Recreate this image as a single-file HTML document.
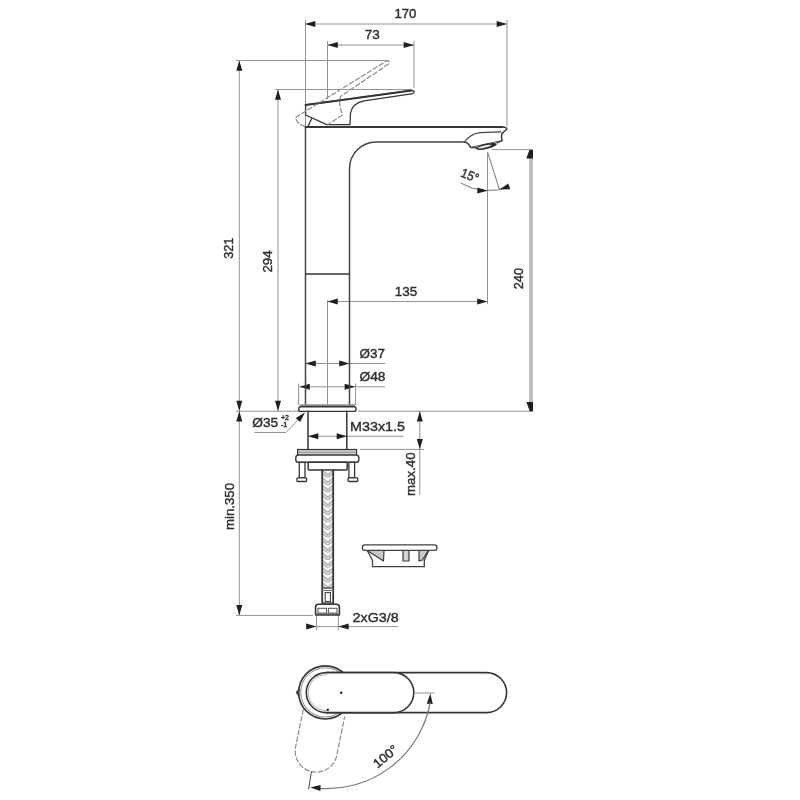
<!DOCTYPE html>
<html><head><meta charset="utf-8"><style>
html,body{margin:0;padding:0;background:#fff;}
svg{display:block;will-change:transform;}
text{font-family:"Liberation Sans",sans-serif;stroke:#2e2e2e;stroke-width:0.4px;}
</style></head><body>
<svg width="800" height="800" viewBox="0 0 800 800">
<rect width="800" height="800" fill="#fff"/>
<line x1="305" y1="24" x2="507" y2="24" stroke="#939393" stroke-width="1.0" />
<polygon points="305.00,24.00 315.30,21.00 315.30,27.00" fill="#1e1e1e"/>
<polygon points="507.00,24.00 496.70,27.00 496.70,21.00" fill="#1e1e1e"/>
<line x1="305.5" y1="20" x2="305.5" y2="127" stroke="#939393" stroke-width="1.0" />
<line x1="507" y1="20" x2="507" y2="126" stroke="#939393" stroke-width="1.0" />
<text x="405.4" y="18.2" font-size="13.7" text-anchor="middle" fill="#2e2e2e" textLength="22" lengthAdjust="spacingAndGlyphs">170</text>
<line x1="327.5" y1="45" x2="414" y2="45" stroke="#939393" stroke-width="1.0" />
<polygon points="327.50,45.00 337.80,42.00 337.80,48.00" fill="#1e1e1e"/>
<polygon points="414.00,45.00 403.70,48.00 403.70,42.00" fill="#1e1e1e"/>
<line x1="327.5" y1="41" x2="327.5" y2="99" stroke="#939393" stroke-width="1.0" />
<line x1="414" y1="41" x2="414" y2="88" stroke="#939393" stroke-width="1.0" />
<text x="372.2" y="39.3" font-size="13.7" text-anchor="middle" fill="#2e2e2e" textLength="15" lengthAdjust="spacingAndGlyphs">73</text>
<line x1="239.3" y1="60" x2="239.3" y2="411" stroke="#939393" stroke-width="1.0" />
<polygon points="239.30,60.50 242.30,70.80 236.30,70.80" fill="#1e1e1e"/>
<polygon points="239.30,411.00 236.30,400.70 242.30,400.70" fill="#1e1e1e"/>
<line x1="236" y1="60.5" x2="388" y2="60.5" stroke="#939393" stroke-width="1.0" />
<text x="233.4" y="248.3" font-size="13.7" text-anchor="middle" fill="#2e2e2e" transform="rotate(-90 233.4 248.3)" textLength="21" lengthAdjust="spacingAndGlyphs">321</text>
<line x1="278" y1="89.5" x2="278" y2="411" stroke="#939393" stroke-width="1.0" />
<polygon points="278.00,89.50 281.00,99.80 275.00,99.80" fill="#1e1e1e"/>
<polygon points="278.00,411.00 275.00,400.70 281.00,400.70" fill="#1e1e1e"/>
<line x1="275" y1="89.5" x2="411" y2="89.5" stroke="#939393" stroke-width="1.0" />
<text x="272.4" y="261.5" font-size="13.7" text-anchor="middle" fill="#2e2e2e" transform="rotate(-90 272.4 261.5)" textLength="22.2" lengthAdjust="spacingAndGlyphs">294</text>
<line x1="236" y1="411.2" x2="299" y2="411.2" stroke="#939393" stroke-width="1.0" />
<line x1="358" y1="411.2" x2="533" y2="411.2" stroke="#939393" stroke-width="1.0" />
<line x1="239.3" y1="411" x2="239.3" y2="615.4" stroke="#939393" stroke-width="1.0" />
<polygon points="239.30,411.20 242.30,421.50 236.30,421.50" fill="#1e1e1e"/>
<polygon points="239.30,615.40 236.30,605.10 242.30,605.10" fill="#1e1e1e"/>
<line x1="236" y1="615.4" x2="313" y2="615.4" stroke="#939393" stroke-width="1.0" />
<text x="234.4" y="506.5" font-size="13.7" text-anchor="middle" fill="#2e2e2e" transform="rotate(-90 234.4 506.5)" textLength="47" lengthAdjust="spacingAndGlyphs">min.350</text>
<line x1="531" y1="150" x2="531" y2="411" stroke="#bcbcbc" stroke-width="3.8" />
<polygon points="529.6,149.6 533,149.6 533,158.6 526.3,158.6" fill="#1e1e1e"/>
<polygon points="526.3,402 533,402 533,411.3 529.8,411.3" fill="#1e1e1e"/>
<line x1="492" y1="149.6" x2="533" y2="149.6" stroke="#939393" stroke-width="1.0" />
<text x="523.2" y="278.6" font-size="13.7" text-anchor="middle" fill="#2e2e2e" transform="rotate(-90 523.2 278.6)" textLength="21.3" lengthAdjust="spacingAndGlyphs">240</text>
<line x1="487.5" y1="152.5" x2="487.5" y2="304.2" stroke="#939393" stroke-width="1.0" />
<line x1="327.5" y1="301.5" x2="487.5" y2="301.5" stroke="#939393" stroke-width="1.0" />
<polygon points="327.50,301.50 337.80,298.50 337.80,304.50" fill="#1e1e1e"/>
<polygon points="487.50,301.50 477.20,304.50 477.20,298.50" fill="#1e1e1e"/>
<text x="406" y="296.2" font-size="13.7" text-anchor="middle" fill="#2e2e2e" textLength="22.5" lengthAdjust="spacingAndGlyphs">135</text>
<line x1="327.5" y1="300" x2="327.5" y2="406" stroke="#939393" stroke-width="1.0" />
<line x1="305" y1="363.5" x2="385" y2="363.5" stroke="#939393" stroke-width="1.0" />
<polygon points="305.50,363.50 315.80,360.50 315.80,366.50" fill="#1e1e1e"/>
<polygon points="349.50,363.50 339.20,366.50 339.20,360.50" fill="#1e1e1e"/>
<text x="372.2" y="358" font-size="13.7" text-anchor="middle" fill="#2e2e2e" textLength="25.5" lengthAdjust="spacingAndGlyphs">Ø37</text>
<line x1="299.5" y1="386.8" x2="385" y2="386.8" stroke="#939393" stroke-width="1.0" />
<polygon points="299.50,386.80 309.80,383.80 309.80,389.80" fill="#1e1e1e"/>
<polygon points="355.00,386.80 344.70,389.80 344.70,383.80" fill="#1e1e1e"/>
<line x1="298.6" y1="383.5" x2="298.6" y2="405" stroke="#939393" stroke-width="1.0" />
<line x1="355.6" y1="383.5" x2="355.6" y2="405" stroke="#939393" stroke-width="1.0" />
<text x="372.5" y="381.3" font-size="13.7" text-anchor="middle" fill="#2e2e2e" textLength="26" lengthAdjust="spacingAndGlyphs">Ø48</text>
<line x1="308" y1="436.2" x2="403.5" y2="436.2" stroke="#939393" stroke-width="1.0" />
<polygon points="308.00,436.20 318.30,433.20 318.30,439.20" fill="#1e1e1e"/>
<polygon points="347.00,436.20 336.70,439.20 336.70,433.20" fill="#1e1e1e"/>
<text x="377.5" y="431.2" font-size="13.7" text-anchor="middle" fill="#2e2e2e" textLength="55" lengthAdjust="spacingAndGlyphs">M33x1.5</text>
<line x1="419.8" y1="411" x2="419.8" y2="495" stroke="#939393" stroke-width="1.0" />
<polygon points="419.80,411.20 422.80,421.50 416.80,421.50" fill="#1e1e1e"/>
<polygon points="419.80,449.30 416.80,439.00 422.80,439.00" fill="#1e1e1e"/>
<line x1="360" y1="449.4" x2="424" y2="449.4" stroke="#939393" stroke-width="1.0" />
<text x="415.5" y="474.2" font-size="13.7" text-anchor="middle" fill="#2e2e2e" transform="rotate(-90 415.5 474.2)" textLength="43.4" lengthAdjust="spacingAndGlyphs">max.40</text>
<line x1="306" y1="626.6" x2="398" y2="626.6" stroke="#939393" stroke-width="1.0" />
<polygon points="316.50,626.60 306.20,629.60 306.20,623.60" fill="#1e1e1e"/>
<polygon points="338.40,626.60 348.70,623.60 348.70,629.60" fill="#1e1e1e"/>
<line x1="316.5" y1="615" x2="316.5" y2="630" stroke="#939393" stroke-width="1.0" />
<line x1="338.4" y1="615" x2="338.4" y2="630" stroke="#939393" stroke-width="1.0" />
<text x="375.6" y="622" font-size="13.7" text-anchor="middle" fill="#2e2e2e" textLength="46" lengthAdjust="spacingAndGlyphs">2xG3/8</text>
<polyline points="254.5,432.5 286,432.5 304,413.5" fill="none" stroke="#939393" stroke-width="1"/>
<polygon points="305.00,412.50 300.07,422.03 295.72,417.89" fill="#1e1e1e"/>
<text x="252.2" y="427" font-size="13.7" text-anchor="start" fill="#2e2e2e" textLength="26" lengthAdjust="spacingAndGlyphs">Ø35</text>
<text x="281" y="419.5" font-size="7" text-anchor="start" fill="#2e2e2e">+2</text>
<text x="281" y="427" font-size="7" text-anchor="start" fill="#2e2e2e">-1</text>
<path d="M305.5,127 L305.5,405" stroke="#444" stroke-width="1.5" fill="none" stroke-linejoin="round" stroke-linecap="round" />
<path d="M349.5,405 L349.5,168.7 A26.7,26.7 0 0 1 376.2,142 L464.4,142" stroke="#444" stroke-width="1.5" fill="none" stroke-linejoin="round" stroke-linecap="round" />
<path d="M305.5,127 L502,127" stroke="#383838" stroke-width="1.8" fill="none" stroke-linejoin="round" stroke-linecap="round" />
<line x1="305.5" y1="274" x2="349.5" y2="274" stroke="#353535" stroke-width="1.5" />
<path d="M464.4,142 Q468.5,142.5 470.5,147.4 L476,147.6" stroke="#444" stroke-width="1.6" fill="none" stroke-linejoin="round" stroke-linecap="round" />
<path d="M464.4,142 Q470,134 480,132.6 L501,131.9" stroke="#444" stroke-width="1.2" fill="none" stroke-linejoin="round" stroke-linecap="round" />
<path d="M502,127 Q508,127.5 506.5,129.5 Q503.5,132 501.8,134 Q500.8,137.5 502.2,140.6 L497,142.8" stroke="#353535" stroke-width="1.4" fill="none" stroke-linejoin="round" stroke-linecap="round" />
<path d="M470.5,147.4 L500,140.9" stroke="#555" stroke-width="1.0" fill="none" stroke-linejoin="round" stroke-linecap="round" />
<ellipse cx="486.3" cy="146.4" rx="10.8" ry="2.6" transform="rotate(-13 486.3 146.4)" fill="#2a2a2a"/>
<ellipse cx="484.5" cy="146.6" rx="7" ry="1.1" transform="rotate(-13 484.5 146.6)" fill="#e8e8e8"/>
<path d="M305.6,104.9 L411.5,90.4 Q416,90.8 413,93.6 L364,100.8 Q352,103.5 350.5,113 L350,124.6 L326.75,124.6 L305.6,115 Z" stroke="#353535" stroke-width="1.3" fill="none" stroke-linejoin="round" stroke-linecap="round" />
<path d="M305.6,104.9 L411.5,90.4" stroke="#353535" stroke-width="2.0" fill="none" stroke-linejoin="round" stroke-linecap="round" />
<line x1="308" y1="126.4" x2="311.8" y2="118.2" stroke="#353535" stroke-width="1.3" />
<path d="M305,126.2 Q297,124 295.5,117.5 L386.5,61 Q391,60.5 388.5,64 L340.5,96.5 Q338.5,104 342.5,115 L328,124.5" stroke="#8a8a8a" stroke-width="1.2" fill="none" stroke-linejoin="round" stroke-linecap="round" stroke-dasharray="4.5,2.5"/>
<rect x="299.8" y="404.3" width="55.2" height="3" fill="#8a8a8a"/>
<rect x="298.7" y="406.8" width="57.3" height="4.6" rx="2" fill="#fff" stroke="#353535" stroke-width="1.4"/>
<path d="M308,411.3 L308,449.4 M346.8,411.3 L346.8,449.4" stroke="#353535" stroke-width="1.5" fill="none" stroke-linejoin="round" stroke-linecap="round" />
<rect x="297.6" y="449.5" width="59" height="5.6" fill="#d0d0d0" stroke="#353535" stroke-width="1.2"/>
<line x1="298.5" y1="452.3" x2="355.8" y2="452.3" stroke="#909090" stroke-width="1" />
<rect x="295.8" y="455.1" width="63" height="7.2" rx="2.5" fill="#fff" stroke="#353535" stroke-width="1.4"/>
<rect x="308.2" y="462.3" width="39" height="7.8" rx="1" fill="#fff" stroke="#353535" stroke-width="1.5"/>
<rect x="299.3" y="462.3" width="5.7" height="15.6" fill="#fff" stroke="#353535" stroke-width="1.3"/>
<rect x="296.9" y="477.9" width="9.8" height="3.6" rx="1" fill="#fff" stroke="#353535" stroke-width="1.3"/>
<rect x="348.9" y="462.3" width="5.7" height="15.6" fill="#fff" stroke="#353535" stroke-width="1.3"/>
<rect x="348.0" y="477.9" width="9.8" height="3.6" rx="1" fill="#fff" stroke="#353535" stroke-width="1.3"/>
<defs><pattern id="braid" x="322" y="470" width="11.5" height="7.5" patternUnits="userSpaceOnUse"><path d="M0,0 L5.75,5 L11.5,0 M0,3 L5.75,8 L11.5,3" stroke="#9a9a9a" stroke-width="1.2" fill="none"/></pattern></defs>
<rect x="322.3" y="470" width="11" height="117.5" fill="url(#braid)"/>
<path d="M322.2,470 L322.2,603 M333.2,470 L333.2,603" stroke="#353535" stroke-width="1.8" fill="none" stroke-linejoin="round" stroke-linecap="round" />
<line x1="322.2" y1="588" x2="333.2" y2="588" stroke="#555" stroke-width="1.5" />
<line x1="322.2" y1="590.5" x2="333.2" y2="590.5" stroke="#777" stroke-width="1" />
<rect x="325.2" y="592.5" width="5.2" height="9" fill="#fff" stroke="#444" stroke-width="1.1"/>
<line x1="322.2" y1="603" x2="333.2" y2="603" stroke="#353535" stroke-width="1.3" />
<path d="M315.6,615 L315.6,607 Q315.6,604.2 318.5,604.2 L336.5,604.2 Q339.4,604.2 339.4,607 L339.4,615 Z" stroke="#353535" stroke-width="1.6" fill="none" stroke-linejoin="round" stroke-linecap="round" />
<rect x="318" y="608.3" width="8.6" height="4.8" fill="#fff" stroke="#555" stroke-width="1"/>
<rect x="328.4" y="608.3" width="8.6" height="4.8" fill="#fff" stroke="#555" stroke-width="1"/>
<line x1="315.6" y1="614.2" x2="339.4" y2="614.2" stroke="#555" stroke-width="1.5" />
<polygon points="368,550.6 383.5,561 384,551" fill="#c8c8c8"/>
<polygon points="428,550.6 422.5,560 419,561 419,551" fill="#c8c8c8"/>
<rect x="403" y="550.5" width="6" height="10.5" fill="#d5d5d5"/>
<path d="M367.2,550.5 L370.5,556.5 L372.5,560.5 L372.5,566.7 L424.3,566.7 L424.3,560.5 L426,556.5 L428.8,550.5" stroke="#404040" stroke-width="1.3" fill="none" stroke-linejoin="round" stroke-linecap="round" />
<path d="M368,551 L383.5,561 L384,551" stroke="#3a3a3a" stroke-width="1.2" fill="none" stroke-linejoin="round" stroke-linecap="round" />
<path d="M403,551 L403,561 L409,561 L409,551" stroke="#3a3a3a" stroke-width="1.2" fill="none" stroke-linejoin="round" stroke-linecap="round" />
<path d="M428,551 L422.5,560 L419,561 L419,551" stroke="#3a3a3a" stroke-width="1.2" fill="none" stroke-linejoin="round" stroke-linecap="round" />
<rect x="362.4" y="544.8" width="74.5" height="5.5" rx="2.3" fill="#fff" stroke="#404040" stroke-width="1.3"/>
<polygon points="299,688 295.6,692.6 299,697" fill="#444"/>
<circle cx="325.3" cy="692.4" r="26.6" fill="#fff" stroke="#3a3a3a" stroke-width="1.7"/>
<circle cx="325.3" cy="692.4" r="24.6" fill="none" stroke="#8a8a8a" stroke-width="1"/>
<path d="M303.2,709.7 L295.6,746.9 A21,21 0 0 0 336.8,755.3 L344.6,717.1" stroke="#8a8a8a" stroke-width="1.2" fill="none" stroke-linejoin="round" stroke-linecap="round" stroke-dasharray="4.5,2.5"/>
<path d="M326.3,672.6 L486.6,672.6 A20,20 0 0 1 486.6,712.6 L326.3,712.6" stroke="#353535" stroke-width="1.6" fill="none" stroke-linejoin="round" stroke-linecap="round" />
<path d="M326.3,672.6 L393.8,672.6 A20,20 0 0 1 393.8,712.6 L326.3,712.6 A20,20 0 0 1 326.3,672.6 Z" stroke="#353535" stroke-width="1.6" fill="#fff" stroke-linejoin="round" stroke-linecap="round" />
<path d="M326.3,674.6 A18,18 0 0 0 326.3,710.6" stroke="#999" stroke-width="0.8" fill="none" stroke-linejoin="round" stroke-linecap="round" />
<circle cx="341.2" cy="692.8" r="1.2" fill="#222"/>
<circle cx="327.8" cy="709.7" r="1.2" fill="#222"/>
<line x1="414.7" y1="693" x2="434.4" y2="693" stroke="#939393" stroke-width="1.0" />
<polygon points="430.30,693.50 432.78,703.94 426.79,703.64" fill="#1e1e1e"/>
<path d="M430.2,702.4 A104.7,104.7 0 0 1 317,788.1" stroke="#777" stroke-width="1.2" fill="none" stroke-linejoin="round" stroke-linecap="round" />
<polygon points="310.20,787.60 320.59,784.91 320.41,790.91" fill="#1e1e1e"/>
<line x1="311.4" y1="771.8" x2="308.6" y2="789.3" stroke="#444" stroke-width="1" />
<text x="388.2" y="759.8" font-size="12.8" text-anchor="middle" fill="#2e2e2e" transform="rotate(-40 388.2 759.8)" textLength="28" lengthAdjust="spacingAndGlyphs">100°</text>
<line x1="487.6" y1="152.2" x2="499.4" y2="189.4" stroke="#777" stroke-width="1" />
<path d="M461,183.25 A55.7,55.7 0 0 0 509.5,186.75" stroke="#777" stroke-width="1.0" fill="none" stroke-linejoin="round" stroke-linecap="round" />
<polygon points="487.60,190.70 477.24,193.49 477.36,187.49" fill="#1e1e1e"/>
<polygon points="499.40,189.60 508.30,183.60 510.12,189.32" fill="#1e1e1e"/>
<text x="468.3" y="179.6" font-size="13.2" text-anchor="middle" fill="#2e2e2e" transform="rotate(22 468.3 179.6)" textLength="18.2" lengthAdjust="spacingAndGlyphs">15°</text>
</svg></body></html>
